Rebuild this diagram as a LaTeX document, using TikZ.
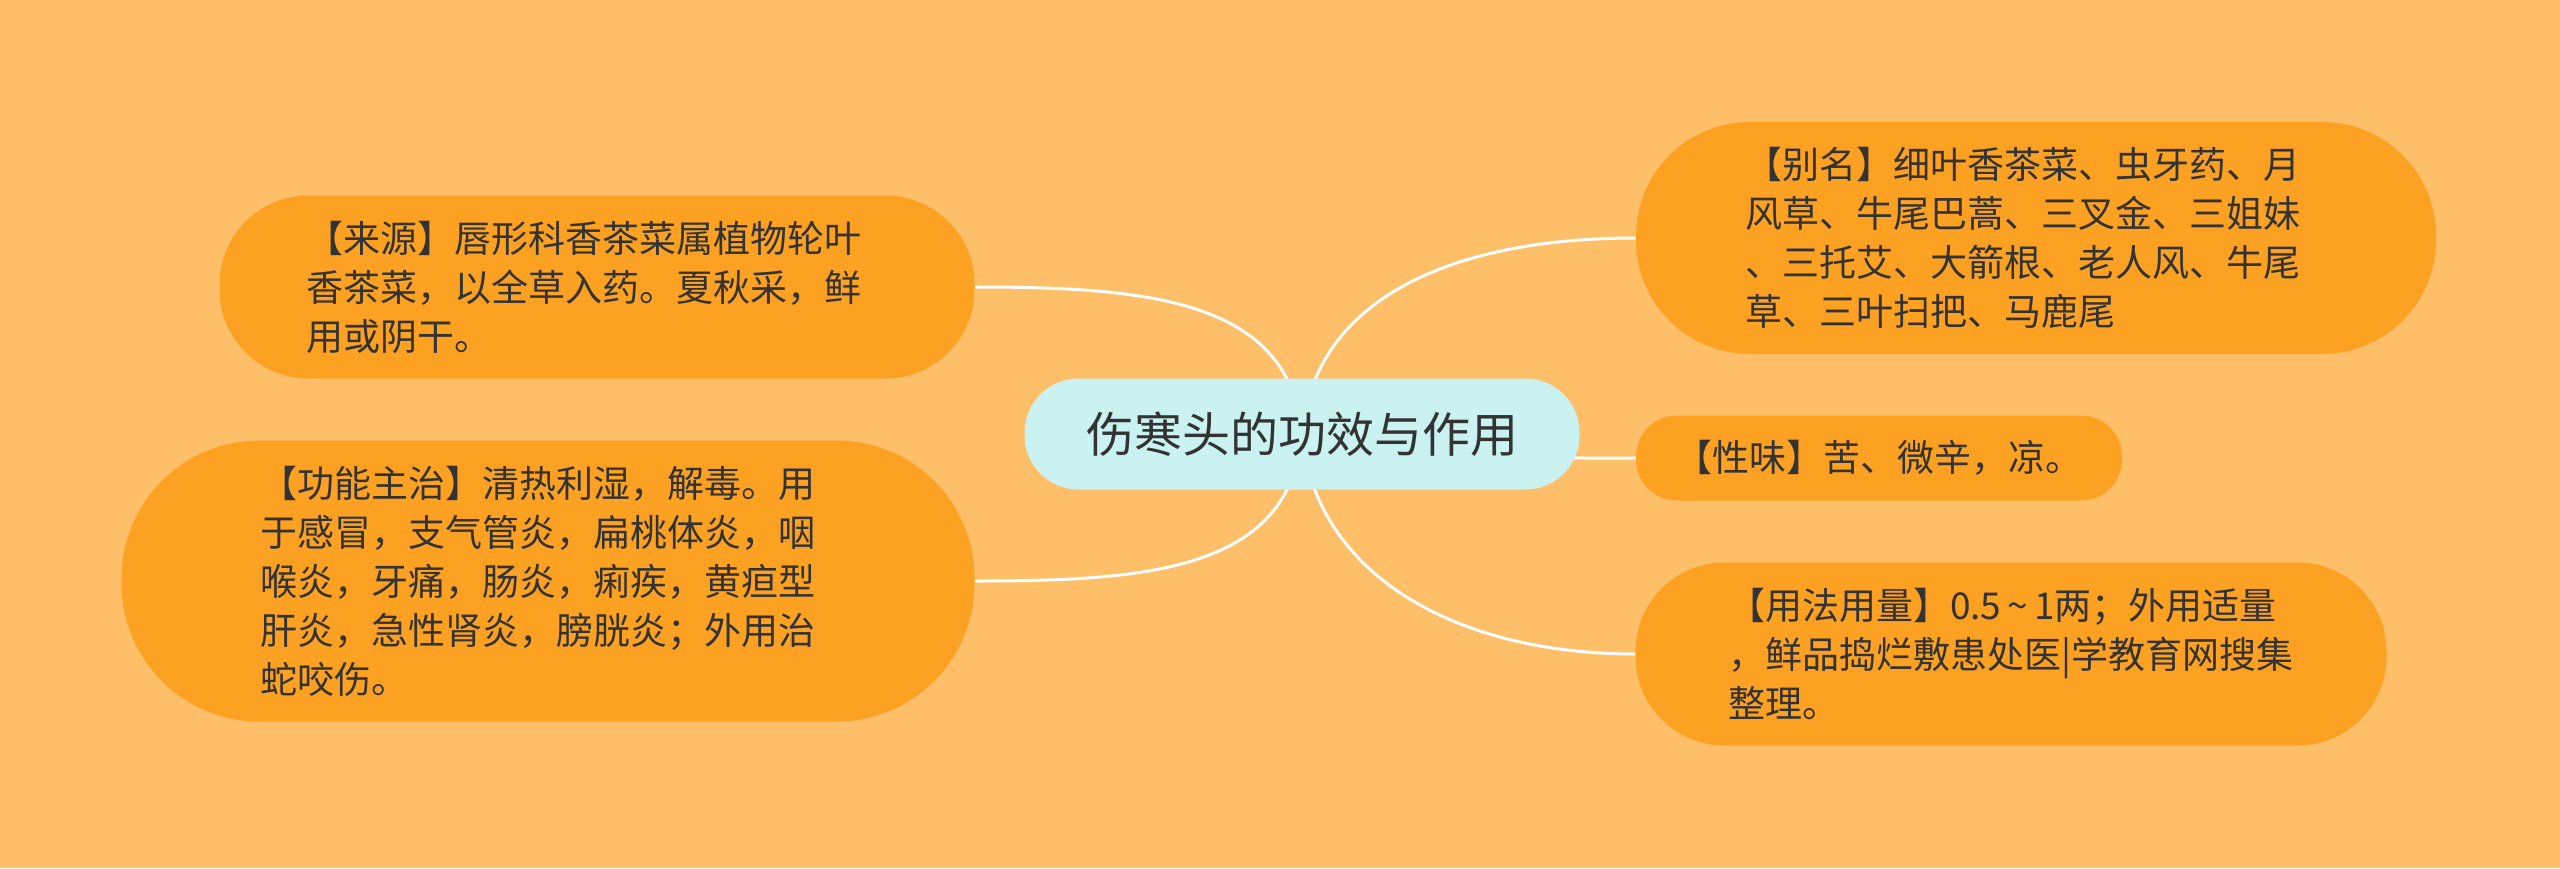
\documentclass[tikz,border=0pt]{standalone}
\usepackage{fontspec}
\setmainfont{Noto Sans CJK SC}
\usetikzlibrary{backgrounds}
\definecolor{bg}{RGB}{255,191,105}
\definecolor{leaf}{RGB}{252,161,33}
\definecolor{root}{RGB}{201,242,240}
\definecolor{ink}{RGB}{51,51,51}
\tikzset{
  leafbox/.style={fill=leaf, text=ink, align=left, font=\fontsize{37}{49}\selectfont, inner sep=0pt},
  rootbox/.style={fill=root, text=ink, font=\fontsize{48}{56}\selectfont, inner sep=0pt},
  link/.style={draw=white, line width=3pt},
}
\begin{document}
\begin{tikzpicture}[x=1pt,y=-1pt]
\useasboundingbox (0,0) rectangle (2560,868);
\node[rootbox, minimum width=555pt, minimum height=111pt, rounded corners=54pt] (c) at (1302,434) {伤寒头的功效与作用};
\node[leafbox, minimum width=755pt, minimum height=183pt, rounded corners=89pt, text width=582pt] (l1) at (597,287)
  {【来源】唇形科香茶菜属植物轮叶\\香茶菜，以全草入药。夏秋采，鲜\\用或阴干。};
\node[leafbox, minimum width=853pt, minimum height=281pt, rounded corners=138pt, text width=576pt] (l2) at (548,581)
  {【功能主治】清热利湿，解毒。用\\于感冒，支气管炎，扁桃体炎，咽\\喉炎，牙痛，肠炎，痢疾，黄疸型\\肝炎，急性肾炎，膀胱炎；外用治\\蛇咬伤。};
\node[leafbox, minimum width=800pt, minimum height=232pt, rounded corners=114pt, text width=582pt] (r1) at (2036,238)
  {【别名】细叶香茶菜、虫牙药、月\\风草、牛尾巴蒿、三叉金、三姐妹\\、三托艾、大箭根、老人风、牛尾\\草、三叶扫把、马鹿尾};
\node[leafbox, minimum width=486pt, minimum height=85pt, rounded corners=41pt] (r2) at (1879,458)
  {【性味】苦、微辛，凉。};
\node[leafbox, minimum width=751pt, minimum height=183pt, rounded corners=89pt, text width=566pt] (r3) at (2011,654)
  {【用法用量】0.5\,\textasciitilde\,1两；外用适量\\，鲜品捣烂敷患处医|学教育网搜集\\整理。};
\begin{pgfonlayer}{background}
\fill[bg] (0,0) rectangle (2560,868);
\draw[link] (c.center) .. controls +(-12,-134) and +(175,0) .. (l1.east);
\draw[link] (c.center) .. controls +(-12,136) and +(175,0) .. (l2.east);
\draw[link] (c.center) .. controls +(12,-134) and +(-186,0) .. (r1.west);
\draw[link] (c.center) .. controls +(150,25) and +(-150,0) .. (r2.west);
\draw[link] (c.center) .. controls +(12,136) and +(-186,0) .. (r3.west);
\end{pgfonlayer}
\end{tikzpicture}
\end{document}
